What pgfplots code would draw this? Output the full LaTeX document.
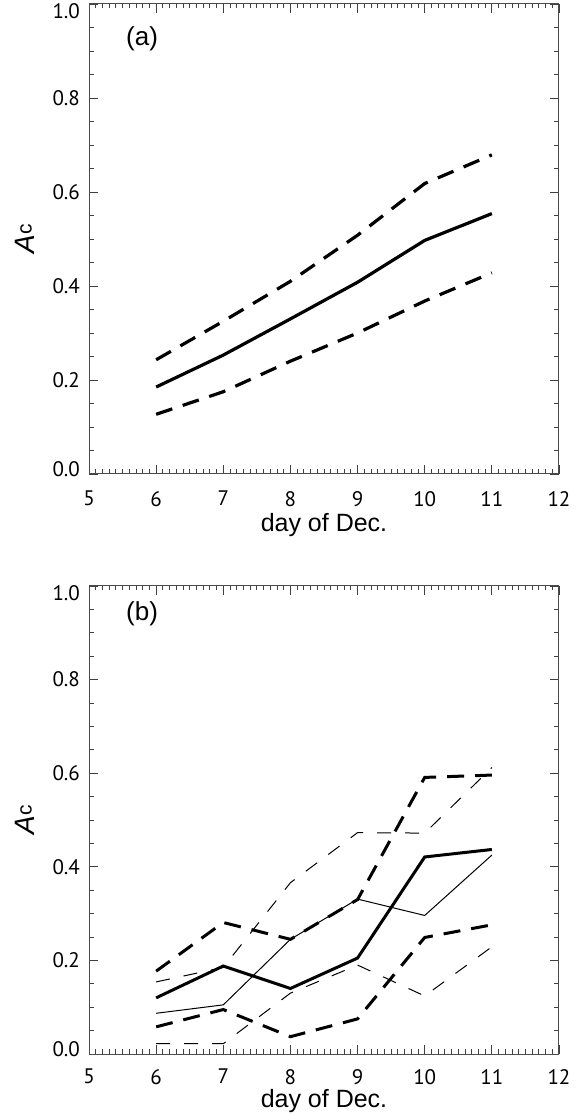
\documentclass[border=0pt]{standalone}
\usepackage{fontspec}
\setmainfont{Liberation Sans}
\newfontfamily\tickfont{PT Sans}
\usepackage{pgfplots}
\pgfplotsset{compat=1.18}

\pgfplotsset{
  panel/.style={
    scale only axis,
    width=235pt,
    xmin=5, xmax=12, ymin=0, ymax=1,
    xtick={5,6,7,8,9,10,11,12},
    minor x tick num=9,
    ytick={0,0.2,0.4,0.6,0.8,1},
    yticklabels={\raisebox{2.5pt}[\height][\depth]{0.0},0.2,0.4,0.6,0.8,\raisebox{-3.5pt}[\height][\depth]{1.0}},
    minor y tick num=3,
    tick align=inside,
    major tick length=4.5pt,
    minor tick length=2.25pt,
    axis line style={black!70, line width=0.5pt},
    every tick/.style={black!75, line width=0.4pt},
    tick label style={font=\fontsize{10.5}{12}\tickfont},
    xticklabel style={yshift=-5pt},
    yticklabel style={xshift=-1pt},
    /pgf/number format/assume math mode=true,
    xlabel={day of Dec.},
    ylabel={{\itshape A}\raisebox{1.5pt}{\fontsize{10.5}{10}\selectfont c}},
    label style={font=\fontsize{12.5}{14}\selectfont},
    ylabel style={font=\fontsize{14}{16}\selectfont, at={(axis description cs:-0.136,0.5)}, anchor=center},
  },
  thick line/.style={black, line width=1.6pt},
  thick dash/.style={black, line width=1.6pt, dash pattern=on 8.5pt off 5.5pt},
  thin line/.style={black, line width=0.5pt},
  thin dash/.style={black, line width=0.5pt, dash pattern=on 7pt off 7pt},
}

\begin{document}
\begin{tikzpicture}
\path[use as bounding box] (0,0) rectangle (289pt,557.5pt);

% panel (a)
\begin{axis}[panel, height=235pt,
    at={(44.5pt,320.5pt)}, anchor=south west,
    xlabel style={at={(axis description cs:0.5,0)}, anchor=base, yshift=-29pt}]
\addplot[thick line] coordinates {(6,0.185) (7,0.253) (8,0.330) (9,0.408) (10,0.497) (11,0.554)};
\addplot[thick dash] coordinates {(6,0.243) (7,0.325) (8,0.410) (9,0.508) (10,0.618) (11,0.679)};
\addplot[thick dash] coordinates {(6,0.127) (7,0.175) (8,0.240) (9,0.300) (10,0.368) (11,0.428)};
\node[font=\fontsize{13}{15}\selectfont] at (axis description cs:0.113,0.925) {(a)};
\end{axis}

% panel (b)
\begin{axis}[panel, height=234pt,
    at={(44.5pt,30.5pt)}, anchor=south west,
    xticklabel style={yshift=1pt},
    xlabel style={at={(axis description cs:0.5,0)}, anchor=base, yshift=-26.5pt}]
\addplot[thin line] coordinates {(6,0.087) (7,0.105) (8,0.245) (9,0.331) (10,0.296) (11,0.425)};
\addplot[thin dash] coordinates {(6,0.154) (7,0.185) (8,0.366) (9,0.473) (10,0.472) (11,0.612)};
\addplot[thin dash] coordinates {(6,0.022) (7,0.022) (8,0.130) (9,0.190) (10,0.124) (11,0.229)};
\addplot[thick line, line width=1.5pt] coordinates {(6,0.120) (7,0.188) (8,0.140) (9,0.205) (10,0.421) (11,0.437)};
\addplot[thick dash, line width=1.5pt] coordinates {(6,0.177) (7,0.281) (8,0.245) (9,0.330) (10,0.591) (11,0.596)};
\addplot[thick dash, line width=1.5pt] coordinates {(6,0.058) (7,0.095) (8,0.037) (9,0.075) (10,0.249) (11,0.276)};
\node[font=\fontsize{13}{15}\selectfont] at (axis description cs:0.113,0.94) {(b)};
\end{axis}
\end{tikzpicture}
\end{document}
